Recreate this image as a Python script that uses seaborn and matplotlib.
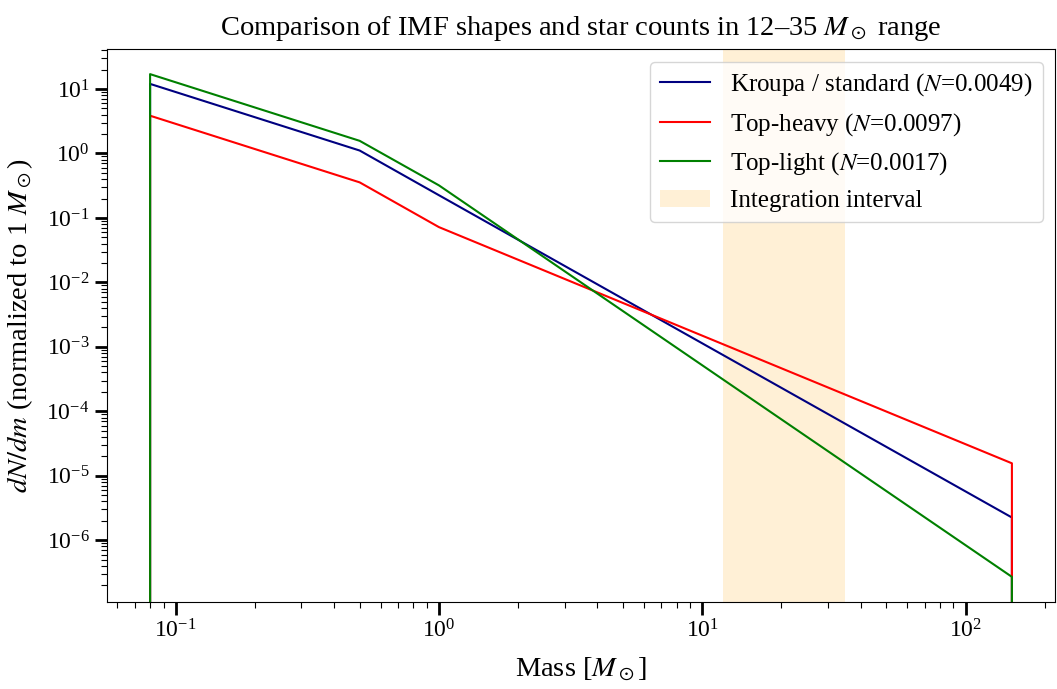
import matplotlib
matplotlib.use("Agg")
import matplotlib.pyplot as plt
import seaborn as sns

# IMF break points (Msun) and dN/dm values
# zero at both ends gives the vertical drop at the mass limits
mass = [0.08, 0.08, 0.5, 1.0, 150.0, 150.0]
kroupa = [0.0, 12.0, 1.11, 0.225, 2.25e-6, 0.0]
top_heavy = [0.0, 3.85, 0.356, 0.072, 1.56e-5, 0.0]
top_light = [0.0, 17.0, 1.57, 0.32, 2.7e-7, 0.0]

names = ["Kroupa / standard", "Top-heavy", "Top-light"]
counts = [0.0049, 0.0097, 0.0017]
colors = ["navy", "red", "green"]
m_lo, m_hi = 12, 35

plt.rcParams["font.family"] = ["Liberation Serif", "DejaVu Serif"]
plt.rcParams["mathtext.fontset"] = "stix"

fig, ax = plt.subplots(figsize=(10.57, 6.89), dpi=100)

for vals, name, n, c in zip([kroupa, top_heavy, top_light], names, counts, colors):
    sns.lineplot(x=mass, y=vals, color=c, lw=1.5, estimator=None, sort=False,
                 label=f"{name} ($N$={n:.4f})", ax=ax)

ax.axvspan(m_lo, m_hi, color="orange", alpha=0.16, lw=0, label="Integration interval")

ax.set_xscale("log")
ax.set_yscale("log")
ax.set_xlabel(r"Mass [$M_\odot$]", fontsize=20.5, labelpad=9)
ax.set_ylabel(r"$dN/dm$ (normalized to 1 $M_\odot$)", fontsize=20.5, labelpad=8)
ax.set_title(r"Comparison of IMF shapes and star counts in 12–35 $M_\odot$ range",
             fontsize=20.5, pad=10)
ax.tick_params(which="major", labelsize=17, length=9, width=2)
ax.tick_params(which="minor", length=4.5, width=0.8)
ax.legend(loc="upper right", fontsize=18)

fig.subplots_adjust(left=107/1057, right=1055/1057, top=1-49/689, bottom=1-602/689)
fig.savefig("out.png", dpi=100)
